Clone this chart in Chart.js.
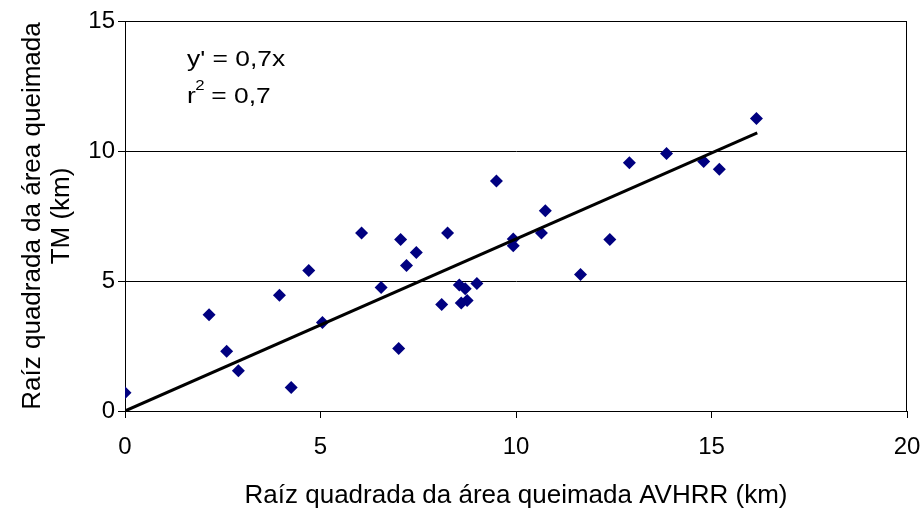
<!DOCTYPE html>
<html>
<head>
<meta charset="utf-8">
<script src="https://cdn.jsdelivr.net/npm/chart.js@4.4.1/dist/chart.umd.min.js"></script>
<style>
  html, body { margin: 0; padding: 0; background: #fff; }
  #wrap { width: 924px; height: 512px; }
</style>
</head>
<body>
<div id="wrap"><canvas id="chart" width="924" height="512"></canvas></div>
<script>
// valores (raiz quadrada da área queimada, km)
const avhrr = [0, 2.15, 2.6, 2.9, 4.25, 3.95, 4.7, 5.05, 6.05, 6.55, 7.0, 7.05, 7.2, 7.45,
  8.1, 8.25, 8.55, 8.7, 8.6, 8.75, 9.0, 9.5, 9.93, 9.93, 10.65, 10.75, 11.65, 12.4,
  12.9, 13.85, 14.8, 15.2, 16.15];
const tm = [0.7, 3.7, 2.3, 1.55, 0.9, 4.45, 5.4, 3.4, 6.85, 4.75, 2.4, 6.6, 5.6, 6.1,
  4.1, 6.85, 4.85, 4.7, 4.15, 4.25, 4.9, 8.85, 6.62, 6.36, 6.85, 7.7, 5.25, 6.6,
  9.55, 9.9, 9.6, 9.3, 11.25];
// linha de tendência
const trendX = [0, 16.17];
const trendY = [0, 10.7];
const xTicks = [0, 5, 10, 15, 20];
const yTicks = [0, 5, 10, 15];

const font = "Liberation Sans, Arial, sans-serif";

const frame = {
  id: "frame",
  afterDraw(chart) {
    const { ctx, chartArea: a } = chart;
    ctx.save();
    ctx.strokeStyle = "#000";
    ctx.lineWidth = 1;
    ctx.beginPath();
    ctx.moveTo(a.left, a.top + 0.5);
    ctx.lineTo(a.right - 0.5, a.top + 0.5);
    ctx.lineTo(a.right - 0.5, a.bottom);
    ctx.stroke();
    // equação (texto um pouco alargado como no original)
    ctx.fillStyle = "#000";
    ctx.textBaseline = "middle";
    ctx.translate(187, 0);
    ctx.scale(1.2, 1);
    ctx.font = "22px " + font;
    ctx.fillText("y' = 0,7x", 0, 60);
    ctx.fillText("r", 0, 97);
    const rw = ctx.measureText("r").width;
    ctx.font = "14px " + font;
    ctx.fillText("2", rw - 0.5, 86);
    const sw = ctx.measureText("2").width;
    ctx.font = "22px " + font;
    ctx.fillText(" = 0,7", rw + sw - 1, 97);
    ctx.restore();
  }
};

new Chart(document.getElementById("chart"), {
  type: "scatter",
  data: {
    datasets: [
      {
        type: "line",
        data: trendX.map((x, i) => ({ x: x, y: trendY[i] })),
        borderColor: "#000",
        borderWidth: 3,
        pointRadius: 0,
        fill: false
      },
      {
        data: avhrr.map((x, i) => ({ x: x, y: tm[i] })),
        pointStyle: "rectRot",
        pointRadius: 6.5,
        backgroundColor: "#000080",
        borderColor: "#000080",
        borderWidth: 0
      }
    ]
  },
  options: {
    responsive: false,
    animation: false,
    layout: { padding: { top: 21, right: 0, left: 0, bottom: 0 } },
    plugins: { legend: { display: false }, tooltip: { enabled: false } },
    scales: {
      x: {
        type: "linear",
        min: 0,
        max: 20,
        afterBuildTicks(s) { s.ticks = xTicks.map(v => ({ value: v })); },
        afterFit(s) { s.height = 101; s.paddingRight = 17; s.paddingLeft = 0; },
        grid: { drawOnChartArea: false, drawTicks: true, tickLength: 7, color: "#000" },
        border: { color: "#000", width: 1 },
        ticks: { color: "#000", font: { family: font, size: 24 }, padding: 15 },
        title: {
          display: true,
          text: "Raíz quadrada da área queimada AVHRR (km)",
          color: "#000",
          font: { family: font, size: 26, lineHeight: 1.2 },
          padding: { top: 0, bottom: 1 }
        }
      },
      y: {
        type: "linear",
        min: 0,
        max: 15,
        afterBuildTicks(s) { s.ticks = yTicks.map(v => ({ value: v })); },
        afterFit(s) { s.width = 125; },
        grid: { color: "#000", lineWidth: 1, tickLength: 7 },
        border: { color: "#000", width: 1 },
        ticks: { color: "#000", font: { family: font, size: 24 }, padding: 3 },
        title: {
          display: true,
          text: ["Raíz quadrada da área queimada", "TM (km)"],
          color: "#000",
          font: { family: font, size: 26, lineHeight: 1.12 },
          padding: { top: 18.5, bottom: 0 }
        }
      }
    }
  },
  plugins: [frame]
});
</script>
</body>
</html>
